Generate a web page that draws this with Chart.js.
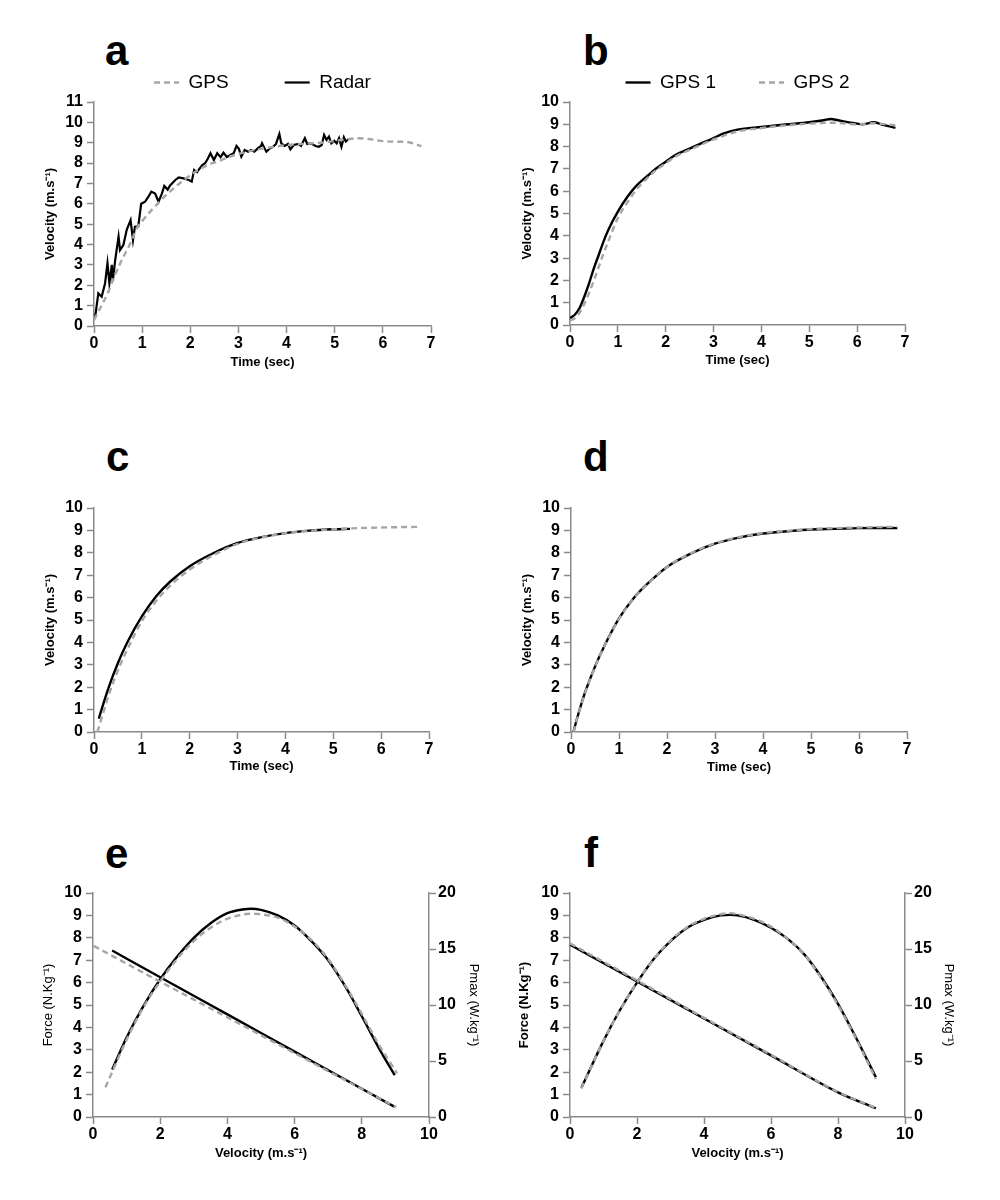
<!DOCTYPE html>
<html>
<head>
<meta charset="utf-8">
<script src="https://cdn.jsdelivr.net/npm/chart.js@4.4.0/dist/chart.umd.min.js"></script>
<style>
    body { margin: 0; background: #fff; }
    #page { position: relative; width: 1000px; height: 1200px; font-family: "Liberation Sans", Arial, sans-serif; }
    canvas { position: absolute; }
    .letter { position: absolute; font-size: 42px; line-height: 42px; font-weight: bold; color: #000; }
</style>
</head>
<body>
<div id="page">
    <div class="letter" style="left:105px; top:30px;">a</div>
    <div class="letter" style="left:583px; top:30px;">b</div>
    <div class="letter" style="left:106px; top:436px;">c</div>
    <div class="letter" style="left:583px; top:436px;">d</div>
    <div class="letter" style="left:105px; top:833px;">e</div>
    <div class="letter" style="left:584px; top:832px;">f</div>
    <canvas id="chartA"></canvas>
    <canvas id="chartB"></canvas>
    <canvas id="chartC"></canvas>
    <canvas id="chartD"></canvas>
    <canvas id="chartE"></canvas>
    <canvas id="chartF"></canvas>
</div>
<script>
// tick labels
const timeTicks = [0, 1, 2, 3, 4, 5, 6, 7];
const velTicksA = [0, 1, 2, 3, 4, 5, 6, 7, 8, 9, 10, 11];
const velTicks = [0, 1, 2, 3, 4, 5, 6, 7, 8, 9, 10];
const speedTicks = [0, 2, 4, 6, 8, 10];
const forceTicks = [0, 1, 2, 3, 4, 5, 6, 7, 8, 9, 10];
const powerTicks = [0, 5, 10, 15, 20];

// a: GPS vs radar
const aGpsT = [0, 0.1, 0.2, 0.3, 0.4, 0.5, 0.6, 0.7, 0.8, 0.9, 1.0, 1.2, 1.4, 1.6, 1.8, 2.0, 2.2, 2.4, 2.6, 2.8, 3.0, 3.2, 3.4, 3.6, 3.8, 4.0, 4.4, 4.8, 5.2, 5.5, 5.8, 6.0, 6.3, 6.5, 6.8];
const aGpsV = [0.3, 0.75, 1.2, 1.7, 2.3, 2.85, 3.35, 3.8, 4.3, 4.85, 5.15, 5.7, 6.2, 6.65, 7.05, 7.4, 7.7, 7.95, 8.1, 8.3, 8.45, 8.57, 8.67, 8.75, 8.82, 8.88, 8.95, 9.02, 9.15, 9.22, 9.15, 9.08, 9.05, 9.04, 8.83];
const aRadarT = [0.02, 0.09, 0.16, 0.23, 0.28, 0.32, 0.37, 0.39, 0.44, 0.51, 0.54, 0.61, 0.68, 0.76, 0.81, 0.85, 0.92, 0.98, 1.06, 1.13, 1.19, 1.27, 1.34, 1.41, 1.46, 1.53, 1.58, 1.69, 1.76, 1.86, 1.97, 2.03, 2.08, 2.14, 2.2, 2.25, 2.31, 2.36, 2.42, 2.49, 2.56, 2.63, 2.69, 2.76, 2.83, 2.9, 2.96, 3.01, 3.06, 3.13, 3.2, 3.26, 3.33, 3.4, 3.47, 3.49, 3.58, 3.65, 3.72, 3.78, 3.85, 3.89, 3.96, 4.03, 4.08, 4.15, 4.24, 4.3, 4.38, 4.43, 4.51, 4.6, 4.67, 4.73, 4.78, 4.83, 4.88, 4.93, 4.99, 5.04, 5.09, 5.14, 5.19, 5.23, 5.28];
const aRadarV = [0.38, 1.6, 1.44, 2.1, 3.08, 2.1, 3.0, 2.2, 3.24, 4.39, 3.73, 3.98, 4.72, 5.2, 4.22, 4.88, 4.9, 6.0, 6.1, 6.35, 6.6, 6.5, 6.1, 6.5, 6.88, 6.7, 6.9, 7.17, 7.3, 7.25, 7.17, 7.09, 7.66, 7.55, 7.75, 7.9, 8.0, 8.2, 8.48, 8.15, 8.48, 8.29, 8.51, 8.3, 8.4, 8.48, 8.84, 8.7, 8.32, 8.64, 8.56, 8.64, 8.56, 8.72, 8.84, 8.97, 8.56, 8.72, 8.8, 8.94, 9.43, 8.97, 8.84, 8.94, 8.67, 8.89, 8.94, 8.84, 9.22, 8.94, 8.97, 8.84, 8.8, 8.89, 9.38, 9.14, 9.3, 8.97, 9.1, 8.97, 9.22, 8.8, 9.27, 9.06, 9.17];

// b: GPS 1 vs GPS 2 raw
const bGps1T = [0, 0.1, 0.2, 0.3, 0.4, 0.5, 0.6, 0.7, 0.8, 1.0, 1.2, 1.4, 1.6, 1.8, 2.0, 2.2, 2.5, 2.8, 3.0, 3.2, 3.5, 4.0, 4.5, 5.0, 5.3, 5.45, 5.6, 6.0, 6.1, 6.35, 6.5, 6.8];
const bGps1V = [0.31, 0.46, 0.76, 1.28, 1.88, 2.55, 3.14, 3.74, 4.26, 5.08, 5.75, 6.27, 6.65, 7.02, 7.32, 7.62, 7.91, 8.2, 8.38, 8.58, 8.76, 8.88, 8.99, 9.09, 9.18, 9.24, 9.18, 9.03, 9.0, 9.09, 9.0, 8.84];
const bGps2T = [0, 0.1, 0.2, 0.3, 0.4, 0.5, 0.6, 0.7, 0.8, 1.0, 1.2, 1.4, 1.6, 1.8, 2.0, 2.2, 2.5, 3.0, 3.5, 4.0, 4.5, 5.0, 5.5, 6.0, 6.35, 6.5, 6.8];
const bGps2V = [0.2, 0.3, 0.55, 0.95, 1.45, 2.0, 2.6, 3.2, 3.75, 4.8, 5.5, 6.1, 6.55, 6.95, 7.25, 7.55, 7.85, 8.32, 8.68, 8.83, 8.95, 9.03, 9.07, 9.0, 9.05, 9.02, 8.96];

// c: modelled radar vs GPS
const cRadarT = [0.1, 0.2, 0.3, 0.5, 0.7, 1.0, 1.3, 1.6, 2.0, 2.5, 3.0, 3.5, 4.0, 4.5, 5.0, 5.35];
const cRadarV = [0.6, 1.29, 1.95, 3.08, 4.02, 5.16, 6.06, 6.73, 7.4, 7.99, 8.44, 8.7, 8.88, 8.99, 9.05, 9.07];
const cGpsT = [0.07, 0.2, 0.3, 0.5, 0.7, 1.0, 1.3, 1.6, 2.0, 2.5, 3.0, 3.5, 4.0, 4.5, 5.0, 5.5, 6.0, 6.5, 6.8];
const cGpsV = [0.0, 0.9, 1.6, 2.75, 3.7, 4.95, 5.85, 6.55, 7.25, 7.9, 8.4, 8.68, 8.87, 8.98, 9.05, 9.1, 9.13, 9.15, 9.16];

// d: modelled GPS 1 vs GPS 2
const dT = [0.05, 0.1, 0.2, 0.3, 0.5, 0.7, 1.0, 1.3, 1.6, 2.0, 2.5, 3.0, 3.5, 4.0, 4.5, 5.0, 5.5, 6.0, 6.5, 6.8];
const dGps1V = [0, 0.4, 1.14, 1.81, 2.92, 3.86, 5.07, 5.96, 6.63, 7.37, 7.97, 8.41, 8.68, 8.86, 8.96, 9.04, 9.07, 9.1, 9.11, 9.1];
const dGps2V = [0, 0.38, 1.1, 1.78, 2.9, 3.85, 5.05, 5.95, 6.62, 7.37, 7.98, 8.42, 8.7, 8.88, 8.98, 9.06, 9.1, 9.13, 9.15, 9.16];

// e: force-velocity / power, radar vs GPS
const eForce1S = [0.57, 2, 4, 6, 8, 8.98];
const eForce1 = [7.43, 6.24, 4.58, 2.92, 1.26, 0.45];
const eForce2S = [0.02, 2, 4, 6, 8, 9.02];
const eForce2 = [7.64, 6.04, 4.45, 2.85, 1.25, 0.45];
const ePow1S = [0.57, 1.0, 1.5, 2.0, 2.5, 3.0, 3.5, 4.0, 4.5, 4.7, 5.0, 5.5, 6.0, 6.5, 7.0, 7.5, 8.0, 8.5, 8.98];
const ePow1 = [4.24, 7.1, 9.9, 12.3, 14.3, 16.0, 17.3, 18.2, 18.55, 18.6, 18.5, 18.0, 17.1, 15.7, 14.0, 11.7, 9.0, 6.2, 3.73];
const ePow2S = [0.37, 1.0, 1.5, 2.0, 2.5, 3.0, 3.5, 4.0, 4.5, 4.8, 5.0, 5.5, 6.0, 6.5, 7.0, 7.5, 8.0, 8.5, 9.05];
const ePow2 = [2.65, 6.9, 9.8, 12.1, 14.1, 15.7, 16.9, 17.7, 18.1, 18.15, 18.1, 17.8, 17.0, 15.8, 14.1, 11.8, 9.2, 6.5, 3.9];

// f: force-velocity / power, GPS 1 vs GPS 2
const fForce1S = [0, 2, 4, 6, 8, 9.13];
const fForce1 = [7.69, 6.05, 4.4, 2.75, 1.1, 0.39];
const fForce2S = [0, 2, 4, 6, 8, 9.1];
const fForce2 = [7.75, 6.1, 4.43, 2.78, 1.12, 0.42];
const fPowS = [0.34, 1, 1.5, 2, 2.5, 3, 3.5, 4, 4.5, 4.8, 5, 5.5, 6, 6.5, 7, 7.5, 8, 8.5, 9.13];
const fPow1 = [2.6, 6.8, 9.6, 12.0, 14.1, 15.7, 16.9, 17.6, 18.0, 18.05, 18.0, 17.6, 16.9, 15.9, 14.5, 12.5, 10.1, 7.3, 3.55];
const fPow2 = [2.55, 6.8, 9.6, 12.0, 14.1, 15.75, 16.95, 17.7, 18.1, 18.2, 18.1, 17.7, 17.0, 15.9, 14.5, 12.4, 10.0, 7.2, 3.4];

const FONT = "'Liberation Sans', Arial, sans-serif";
const AXIS_GREY = '#8a8a8a';
const DASH_GREY = '#a6a6a6';

function pairs(xs, ys) {
    return xs.map((x, i) => ({ x: x, y: ys[i] }));
}

// dashed (grey) series are drawn over the solid black ones
function line(label, xs, ys, dashed, extra) {
    return Object.assign({
        label: label,
        data: pairs(xs, ys),
        borderColor: dashed ? DASH_GREY : '#000',
        backgroundColor: dashed ? DASH_GREY : '#000',
        borderWidth: 2.4,
        borderDash: dashed ? [6, 4] : [],
        order: dashed ? 0 : 1,
        showLine: true,
        pointRadius: 0,
        pointHoverRadius: 0,
        cubicInterpolationMode: 'monotone'
    }, extra || {});
}

function axis(o) {
    return {
        type: 'linear',
        position: o.position,
        min: o.ticks[0],
        max: o.ticks[o.ticks.length - 1],
        afterBuildTicks: s => { s.ticks = o.ticks.map(v => ({ value: v })); },
        afterFit: s => { if (s.isHorizontal()) s.height = o.size; else s.width = o.size; },
        border: { display: true, color: AXIS_GREY, width: 1.5 },
        grid: { drawOnChartArea: false, drawTicks: true, tickLength: 7, tickWidth: 1.5, tickColor: AXIS_GREY },
        ticks: { autoSkip: false, maxRotation: 0, color: '#000', padding: o.tickPad, font: { family: FONT, size: 16, weight: 'bold' } },
        title: {
            display: true, text: o.title, color: '#000',
            padding: o.position === 'bottom' ? { top: 0, bottom: o.titlePad } : { top: o.titlePad, bottom: 0 },
            font: { family: FONT, size: 13, weight: o.weight || 'bold' }
        }
    };
}

function legendOpts(pad) {
    return {
        display: true,
        position: 'top',
        fullSize: false,
        labels: {
            usePointStyle: true, pointStyle: 'line', pointStyleWidth: 25,
            color: '#000', padding: pad,
            font: { family: FONT, size: 19 },
            sort: (a, b) => a.datasetIndex - b.datasetIndex,
            generateLabels: chart => {
                const items = Chart.defaults.plugins.legend.labels.generateLabels(chart);
                items.forEach(it => {
                    const ds = chart.data.datasets[it.datasetIndex];
                    it.lineDash = ds.borderDash;
                    it.lineWidth = ds.borderWidth;
                    it.strokeStyle = ds.borderColor;
                    it.pointStyle = 'line';
                });
                return items;
            }
        }
    };
}

function makeChart(id, box, datasets, scales, padding, legend) {
    const cv = document.getElementById(id);
    cv.width = box.w;
    cv.height = box.h;
    cv.style.left = box.x + 'px';
    cv.style.top = box.y + 'px';
    return new Chart(cv, {
        type: 'scatter',
        data: { datasets: datasets },
        options: {
            responsive: false,
            animation: false,
            layout: { padding: padding },
            plugins: { legend: legend || { display: false }, tooltip: { enabled: false } },
            scales: scales
        }
    });
}

const velTitle = 'Velocity (m.s\u207B\u00B9)';

// a
makeChart('chartA', { x: 20, y: 17, w: 475, h: 353 }, [
    line('GPS', aGpsT, aGpsV, true),
    line('Radar', aRadarT, aRadarV, false, { cubicInterpolationMode: 'default', tension: 0, borderWidth: 2.2 })
], {
    x: axis({ position: 'bottom', ticks: timeTicks, size: 44, tickPad: 1, title: 'Time (sec)', titlePad: 0 }),
    y: axis({ position: 'left', ticks: velTicksA, size: 74, tickPad: 4, title: velTitle, titlePad: 23 })
}, { top: 0, left: 0, right: 64, bottom: 0 }, legendOpts(56));

// b
makeChart('chartB', { x: 490, y: 30, w: 488, h: 338 }, [
    line('GPS 1', bGps1T, bGps1V, false),
    line('GPS 2', bGps2T, bGps2V, true)
], {
    x: axis({ position: 'bottom', ticks: timeTicks, size: 43, tickPad: 1, title: 'Time (sec)', titlePad: 0 }),
    y: axis({ position: 'left', ticks: velTicks, size: 80, tickPad: 4, title: velTitle, titlePad: 29.5 })
}, { top: 0, left: 0, right: 73, bottom: 0 }, legendOpts(43));

// c
makeChart('chartC', { x: 20, y: 488, w: 475, h: 287 }, [
    line('Radar', cRadarT, cRadarV, false),
    line('GPS', cGpsT, cGpsV, true)
], {
    x: axis({ position: 'bottom', ticks: timeTicks, size: 43, tickPad: 1, title: 'Time (sec)', titlePad: 0.5 }),
    y: axis({ position: 'left', ticks: velTicks, size: 74, tickPad: 4, title: velTitle, titlePad: 23 })
}, { top: 20, left: 0, right: 66, bottom: 0 });

// d
makeChart('chartD', { x: 490, y: 488, w: 488, h: 287 }, [
    line('GPS 1', dT, dGps1V, false),
    line('GPS 2', dT, dGps2V, true)
], {
    x: axis({ position: 'bottom', ticks: timeTicks, size: 43, tickPad: 1, title: 'Time (sec)', titlePad: 0 }),
    y: axis({ position: 'left', ticks: velTicks, size: 81, tickPad: 4, title: velTitle, titlePad: 29.5 })
}, { top: 20, left: 0, right: 71, bottom: 0 });

// e
makeChart('chartE', { x: 20, y: 873, w: 475, h: 288 }, [
    line('Force radar', eForce1S, eForce1, false, { yAxisID: 'y' }),
    line('Power radar', ePow1S, ePow1, false, { yAxisID: 'y2' }),
    line('Force GPS', eForce2S, eForce2, true, { yAxisID: 'y' }),
    line('Power GPS', ePow2S, ePow2, true, { yAxisID: 'y2' })
], {
    x: axis({ position: 'bottom', ticks: speedTicks, size: 44, tickPad: 1, title: velTitle, titlePad: 0 }),
    y: axis({ position: 'left', ticks: forceTicks, size: 73, tickPad: 4, title: 'Force (N.Kg\u207B\u00B9)', titlePad: 20.5, weight: 'normal' }),
    y2: axis({ position: 'right', ticks: powerTicks, size: 66, tickPad: 2, title: 'Pmax (W.kg\u207B\u00B9)', titlePad: 14, weight: 'normal' })
}, { top: 20, left: 0, right: 0, bottom: 0 });

// f
makeChart('chartF', { x: 490, y: 873, w: 485, h: 288 }, [
    line('Force GPS 1', fForce1S, fForce1, false, { yAxisID: 'y' }),
    line('Power GPS 1', fPowS, fPow1, false, { yAxisID: 'y2' }),
    line('Force GPS 2', fForce2S, fForce2, true, { yAxisID: 'y' }),
    line('Power GPS 2', fPowS, fPow2, true, { yAxisID: 'y2' })
], {
    x: axis({ position: 'bottom', ticks: speedTicks, size: 44, tickPad: 1, title: velTitle, titlePad: 0 }),
    y: axis({ position: 'left', ticks: forceTicks, size: 80, tickPad: 4, title: 'Force (N.Kg\u207B\u00B9)', titlePad: 27 }),
    y2: axis({ position: 'right', ticks: powerTicks, size: 70, tickPad: 2, title: 'Pmax (W.kg\u207B\u00B9)', titlePad: 19, weight: 'normal' })
}, { top: 20, left: 0, right: 0, bottom: 0 });
</script>
</body>
</html>
